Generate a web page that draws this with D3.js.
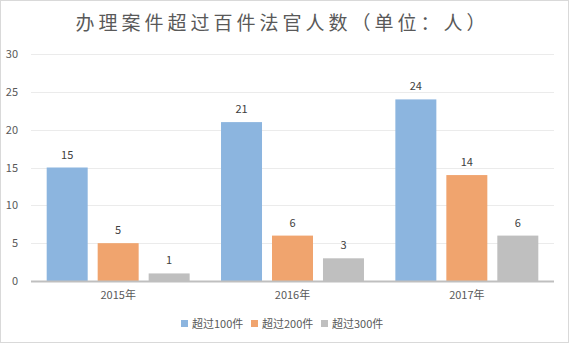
<!DOCTYPE html>
<html><head><meta charset="utf-8">
<script src="https://cdn.jsdelivr.net/npm/d3@7"></script>
<style>body{margin:0;background:#fff}svg{display:block}</style>
</head><body>
<script>
const categories = ["2015年", "2016年", "2017年"];
const seriesNames = ["超过100件", "超过200件", "超过300件"];
const over100 = [15, 21, 24];
const over200 = [5, 6, 14];
const over300 = [1, 3, 6];
const yTicks = [0, 5, 10, 15, 20, 25, 30];
const colors = ["#8cb5df", "#f0a46e", "#bfbfbf"];
const title = "办理案件超过百件法官人数（单位：人）";

(function () {
const W = 569, H = 344;
const svg = d3.select("body").append("svg").attr("width", W).attr("height", H);
svg.append("rect").attr("x", 0.5).attr("y", 0.5).attr("width", W - 1).attr("height", H - 2)
  .attr("fill", "#fff").attr("stroke", "#d9d9d9");

const font = "'Noto Sans CJK SC', 'Noto Sans', sans-serif";
const pLeft = 31, pRight = 554, pTop = 54, pBottom = 281;
const y = d3.scaleLinear().domain([0, 30]).range([pBottom, pTop]);
const x0 = d3.scaleBand().domain(categories).range([pLeft, pRight]).paddingInner(0.18).paddingOuter(0.09);
const x1 = d3.scaleBand().domain(seriesNames).range([0, x0.bandwidth()]).paddingInner(0.196);

svg.append("text").attr("x", W / 2 - 2).attr("y", 30).attr("text-anchor", "middle")
  .attr("font-family", font).attr("font-size", 19).attr("letter-spacing", 4).attr("fill", "#595959")
  .text(title);

// grid
svg.append("g").selectAll("line").data(yTicks.filter(d => d > 0)).join("line")
  .attr("x1", pLeft).attr("x2", pRight).attr("y1", d => Math.round(y(d)) + 0.5).attr("y2", d => Math.round(y(d)) + 0.5)
  .attr("stroke", "#ebebeb");

const yAxis = svg.append("g").attr("transform", `translate(${pLeft},0)`)
  .call(d3.axisLeft(y).tickValues(yTicks).tickSize(0).tickPadding(13));
yAxis.select(".domain").remove();
yAxis.selectAll("text").attr("font-family", font).attr("font-size", 11).attr("fill", "#595959");

const data = [over100, over200, over300];
const groups = svg.append("g").selectAll("g").data(categories).join("g")
  .attr("transform", d => `translate(${x0(d)},0)`);
groups.selectAll("rect").data((c, i) => seriesNames.map((s, j) => ({ s, v: data[j][i], j }))).join("rect")
  .attr("x", d => x1(d.s)).attr("width", x1.bandwidth())
  .attr("y", d => y(d.v)).attr("height", d => pBottom - y(d.v)).attr("fill", d => colors[d.j]);
groups.selectAll("text").data((c, i) => seriesNames.map((s, j) => ({ s, v: data[j][i], j }))).join("text")
  .attr("x", d => x1(d.s) + x1.bandwidth() / 2).attr("y", d => y(d.v) - 9)
  .attr("text-anchor", "middle").attr("font-family", font).attr("font-size", 11).attr("fill", "#404040")
  .text(d => d.v);

// baseline
svg.append("line").attr("x1", pLeft).attr("x2", pRight).attr("y1", pBottom + 0.5).attr("y2", pBottom + 0.5)
  .attr("stroke", "#bfbfbf").attr("stroke-width", 2);

const xAxis = svg.append("g").attr("transform", `translate(0,${pBottom})`)
  .call(d3.axisBottom(x0).tickSize(0).tickPadding(10));
xAxis.select(".domain").remove();
xAxis.selectAll("text").attr("font-family", font).attr("font-size", 11).attr("fill", "#595959");

// legend
const legendX = [181, 251, 321];
const lg = svg.append("g").selectAll("g").data(seriesNames).join("g")
  .attr("transform", (d, i) => `translate(${legendX[i]},324)`);
lg.append("rect").attr("x", 0).attr("y", -4).attr("width", 7).attr("height", 7).attr("fill", (d, i) => colors[i]);
lg.append("text").attr("x", 11).attr("y", 4).attr("font-family", font).attr("font-size", 11).attr("fill", "#595959")
  .text(d => d);
})();
</script>
</body></html>
